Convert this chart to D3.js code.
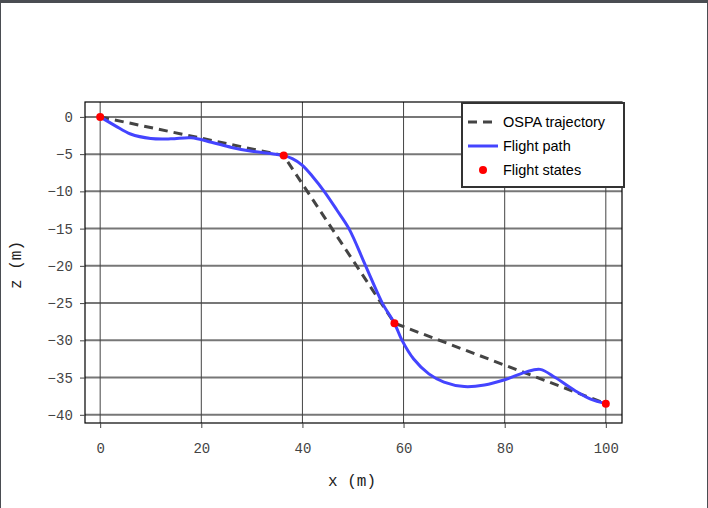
<!DOCTYPE html>
<html><head><meta charset="utf-8">
<script src="https://cdn.jsdelivr.net/npm/d3@7"></script>
<style>
html,body{margin:0;padding:0;background:#fff;}
#frame{position:absolute;left:0;top:0;width:706px;height:505px;border-left:1px solid #4a4d52;border-right:1px solid #4a4d52;border-top:3px solid #4a4d52;}
</style></head><body>
<div id="frame"></div>
<svg id="c" width="708" height="508" style="position:absolute;left:0;top:0"></svg>
<script>
const stateX = [0, 36.3, 58.2, 100];
const stateZ = [0, -5.2, -27.7, -38.5];
const pathX = [0,3,6,10,14,18,22,26,30,34,36.3,38,40,42,44.3,46.8,49.2,52.5,55.8,58.2,59.7,62,65,68,72,76,80,84,87,90,94,97,100];
const pathZ = [0,-1.2,-2.3,-2.9,-2.95,-2.8,-3.4,-4.1,-4.6,-4.95,-5.2,-5.6,-6.5,-8,-10,-12.5,-15,-20,-25,-27.7,-30,-32.5,-34.5,-35.6,-36.2,-36,-35.3,-34.3,-33.9,-35,-36.8,-37.9,-38.5];
const xTicks = [0,20,40,60,80,100];
const zTicks = [0,-5,-10,-15,-20,-25,-30,-35,-40];
const legendLabels = ["OSPA trajectory","Flight path","Flight states"];

const svg = d3.select("#c");
const L=85,R=622,T=102,B=423;
const x = d3.scaleLinear().domain([-3,103.2]).range([L,R]);
const y = d3.scaleLinear().domain([2,-41.1]).range([T,B]);
const mono = "'Liberation Mono','DejaVu Sans Mono',monospace";

const g = svg.append("g");
zTicks.forEach(t=>g.append("line").attr("x1",L).attr("x2",R).attr("y1",y(t)).attr("y2",y(t)).attr("stroke","#777").attr("stroke-width",2));
xTicks.forEach(t=>g.append("line").attr("y1",T).attr("y2",B).attr("x1",x(t)).attr("x2",x(t)).attr("stroke","#444").attr("stroke-width",1));
g.append("rect").attr("x",L).attr("y",T).attr("width",R-L).attr("height",B-T).attr("fill","none").attr("stroke","#000").attr("stroke-width",1.2);

const xa = svg.append("g").attr("transform",`translate(0,${B})`).call(d3.axisBottom(x).tickValues(xTicks).tickSize(5).tickSizeOuter(0));
const ya = svg.append("g").attr("transform",`translate(${L},0)`).call(d3.axisLeft(y).tickValues(zTicks).tickSize(5).tickSizeOuter(0).tickFormat(d=>d<0?"\u2212"+(-d):d));
[xa,ya].forEach(a=>{a.select(".domain").remove();a.selectAll("text").attr("font-family",mono).attr("font-size",14).attr("fill","#444");a.selectAll("line").attr("stroke","#444");});
xa.selectAll("text").attr("dy","1.6em");
ya.selectAll("text").attr("dx","-0.3em");

const pts = stateX.map((v,i)=>[v,stateZ[i]]);
const pp = pathX.map((v,i)=>[v,pathZ[i]]);
svg.append("path").attr("d",d3.line().x(d=>x(d[0])).y(d=>y(d[1]))(pts)).attr("fill","none").attr("stroke","#444").attr("stroke-width",3).attr("stroke-dasharray","9,6");
svg.append("path").attr("d",d3.line().curve(d3.curveCatmullRom).x(d=>x(d[0])).y(d=>y(d[1]))(pp)).attr("fill","none").attr("stroke","#4444ff").attr("stroke-width",3);
svg.selectAll("circle.s").data(pts).enter().append("circle").attr("cx",d=>x(d[0])).attr("cy",d=>y(d[1])).attr("r",4).attr("fill","#ff0000");

const lg = svg.append("g");
lg.append("rect").attr("x",462).attr("y",103).attr("width",162).attr("height",84).attr("fill","#fff").attr("stroke","#333").attr("stroke-width",2);
const ly=[122,146,170];
lg.append("line").attr("x1",468).attr("x2",498).attr("y1",ly[0]).attr("y2",ly[0]).attr("stroke","#444").attr("stroke-width",3).attr("stroke-dasharray","9,6");
lg.append("line").attr("x1",468).attr("x2",498).attr("y1",ly[1]).attr("y2",ly[1]).attr("stroke","#4444ff").attr("stroke-width",3);
lg.append("circle").attr("cx",483).attr("cy",ly[2]).attr("r",4).attr("fill","#ff0000");
legendLabels.forEach((t,i)=>lg.append("text").attr("x",503).attr("y",ly[i]+5).text(t).attr("font-family","'Liberation Sans',Arial,sans-serif").attr("font-size",14.5).attr("fill","#000"));

svg.append("text").attr("x",352).attr("y",486).attr("text-anchor","middle").attr("font-family",mono).attr("font-size",16).attr("fill","#222").text("x (m)");
svg.append("text").attr("transform","translate(21,265) rotate(-90)").attr("text-anchor","middle").attr("font-family",mono).attr("font-size",16).attr("fill","#222").text("z (m)");
</script></body></html>
